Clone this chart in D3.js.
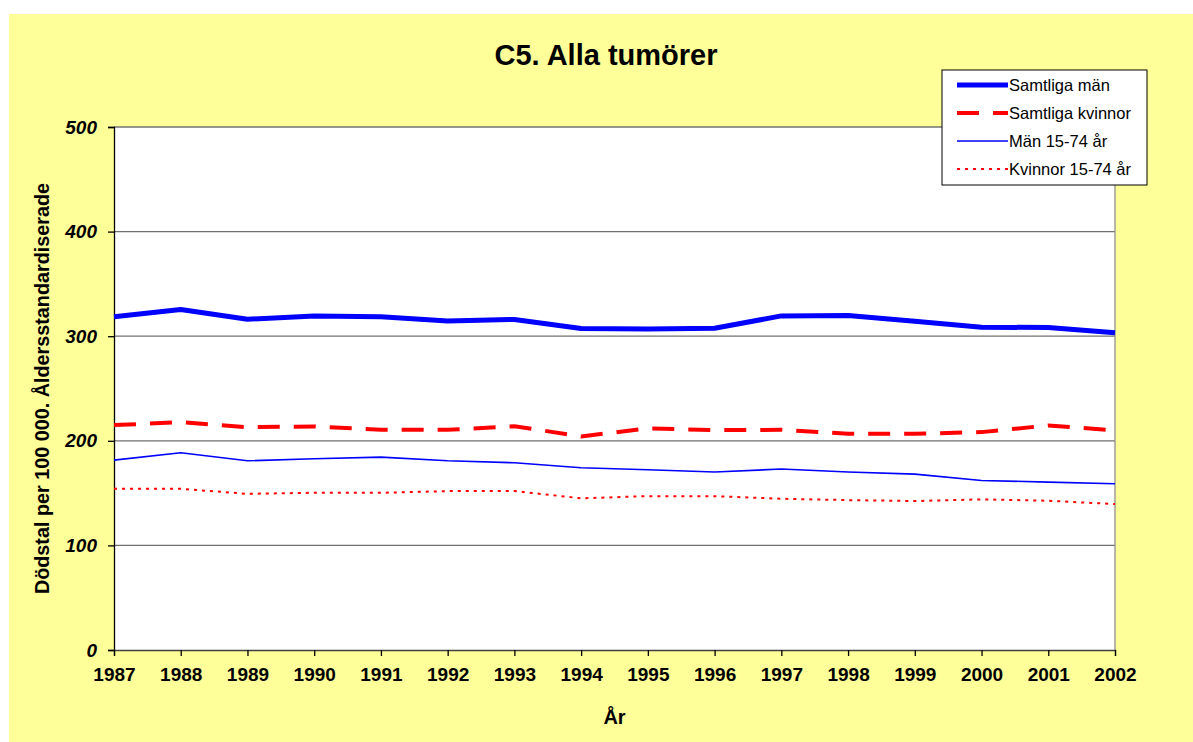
<!DOCTYPE html>
<html>
<head>
<meta charset="utf-8">
<script src="https://cdn.jsdelivr.net/npm/d3@7"></script>
<style>
  body { margin: 0; background: #ffffff; }
</style>
</head>
<body>
<div id="chart"></div>
<script>
// data
var years = [1987, 1988, 1989, 1990, 1991, 1992, 1993, 1994, 1995, 1996, 1997, 1998, 1999, 2000, 2001, 2002];
var samtligaMan = [318.5, 325.5, 316.2, 319.4, 318.5, 314.6, 316, 307.3, 307, 307.6, 319.4, 319.8, 314.3, 308.6, 308.3, 303.2];
var samtligaKvinnor = [215, 217.8, 213, 213.7, 210.5, 210.5, 214, 204.2, 211.8, 210.2, 210.5, 206.7, 206.7, 208.3, 214.7, 209.9];
var man1574 = [181.5, 188.5, 180.9, 182.8, 184.4, 180.9, 179, 174.2, 172.3, 170.1, 173, 170.1, 168.1, 162.1, 160.5, 158.9];
var kvinnor1574 = [154.1, 154.1, 149.3, 150.3, 150.3, 151.9, 152, 145, 147.1, 147.1, 144.6, 143.3, 142.4, 144, 142.7, 139.5];
var yTicks = [0, 100, 200, 300, 400, 500];

var seriesNames = ["Samtliga män", "Samtliga kvinnor", "Män 15-74 år", "Kvinnor 15-74 år"];
var seriesValues = [samtligaMan, samtligaKvinnor, man1574, kvinnor1574];

// styles per series
var seriesStyles = [
    { color: "#0000ff", width: 5, dash: null },
    { color: "#ff0000", width: 4, dash: "22,14" },
    { color: "#0000ff", width: 1.6, dash: null },
    { color: "#ff0000", width: 2, dash: "3,5" }
];

var W = 1193, H = 742;
var plot = { left: 114, right: 1115, top: 127, bottom: 650 };

var svg = d3.select("#chart")
    .append("svg")
    .attr("width", W)
    .attr("height", H)
    .attr("font-family", "Arial, 'Liberation Sans', sans-serif");

// yellow chart area
svg.append("rect")
    .attr("x", 9)
    .attr("y", 14)
    .attr("width", W - 9)
    .attr("height", H - 14)
    .attr("fill", "#ffff99");

var x = d3.scaleLinear()
    .domain([years[0], years[years.length - 1]])
    .range([plot.left, plot.right]);

var y = d3.scaleLinear()
    .domain([0, 500])
    .range([plot.bottom, plot.top]);

// plot area
svg.append("rect")
    .attr("x", plot.left)
    .attr("y", plot.top)
    .attr("width", plot.right - plot.left)
    .attr("height", plot.bottom - plot.top)
    .attr("fill", "#ffffff");

// gridlines
svg.append("g")
    .selectAll("line")
    .data(yTicks.filter(function (d) { return d > 0; }))
    .join("line")
    .attr("x1", plot.left)
    .attr("x2", plot.right)
    .attr("y1", function (d) { return y(d); })
    .attr("y2", function (d) { return y(d); })
    .attr("stroke", "#707070")
    .attr("stroke-width", 1.3);

// right border
svg.append("line")
    .attr("x1", plot.right)
    .attr("x2", plot.right)
    .attr("y1", plot.top)
    .attr("y2", plot.bottom)
    .attr("stroke", "#909090")
    .attr("stroke-width", 1.3);

// y axis
var yAxis = svg.append("g")
    .attr("transform", "translate(" + plot.left + ",0)")
    .call(d3.axisLeft(y).tickValues(yTicks).tickSize(6).tickPadding(11));
yAxis.select(".domain").attr("stroke", "#000").attr("stroke-width", 1.3);
yAxis.selectAll(".tick line").attr("stroke", "#000").attr("stroke-width", 1.3);
yAxis.selectAll(".tick text")
    .attr("font-size", "19px")
    .attr("font-weight", "bold")
    .attr("font-style", "italic")
    .attr("font-family", "Arial, 'Liberation Sans', sans-serif")
    .attr("fill", "#000");

// x axis
var xAxis = svg.append("g")
    .attr("transform", "translate(0," + plot.bottom + ")")
    .call(d3.axisBottom(x).tickValues(years).tickFormat(d3.format("d")).tickSize(6).tickPadding(12));
xAxis.select(".domain").attr("stroke", "#404040").attr("stroke-width", 1.3);
xAxis.selectAll(".tick line").attr("stroke", "#000").attr("stroke-width", 1.3);
xAxis.selectAll(".tick text")
    .attr("font-size", "19px")
    .attr("font-weight", "bold")
    .attr("font-family", "Arial, 'Liberation Sans', sans-serif")
    .attr("fill", "#000");

// lines
var line = d3.line()
    .x(function (d, i) { return x(years[i]); })
    .y(function (d) { return y(d); });

svg.append("g")
    .selectAll("path")
    .data(seriesValues)
    .join("path")
    .attr("d", function (d) { return line(d); })
    .attr("fill", "none")
    .attr("stroke", function (d, i) { return seriesStyles[i].color; })
    .attr("stroke-width", function (d, i) { return seriesStyles[i].width; })
    .attr("stroke-dasharray", function (d, i) { return seriesStyles[i].dash; })
    .attr("stroke-linejoin", "round");

// title
svg.append("text")
    .attr("x", 606)
    .attr("y", 65)
    .attr("text-anchor", "middle")
    .attr("font-size", "29px")
    .attr("font-weight", "bold")
    .text("C5. Alla tumörer");

// axis titles
svg.append("text")
    .attr("transform", "translate(49," + ((plot.top + plot.bottom) / 2) + ") rotate(-90)")
    .attr("text-anchor", "middle")
    .attr("font-size", "19.8px")
    .attr("font-weight", "bold")
    .text("Dödstal per 100 000. Åldersstandardiserade");

svg.append("text")
    .attr("x", (plot.left + plot.right) / 2)
    .attr("y", 724)
    .attr("text-anchor", "middle")
    .attr("font-size", "20px")
    .attr("font-weight", "bold")
    .text("År");

// legend
var legend = svg.append("g")
    .attr("transform", "translate(942,70)");

legend.append("rect")
    .attr("width", 205)
    .attr("height", 115)
    .attr("fill", "#ffffff")
    .attr("stroke", "#000")
    .attr("stroke-width", 1);

var legendItems = legend.selectAll("g")
    .data(seriesNames)
    .join("g")
    .attr("transform", function (d, i) { return "translate(0," + (15 + i * 28) + ")"; });

legendItems.append("line")
    .attr("x1", 15)
    .attr("x2", 66)
    .attr("y1", 0)
    .attr("y2", 0)
    .attr("stroke", function (d, i) { return seriesStyles[i].color; })
    .attr("stroke-width", function (d, i) { return seriesStyles[i].width; })
    .attr("stroke-dasharray", function (d, i) { return seriesStyles[i].dash; });

legendItems.append("text")
    .attr("x", 67)
    .attr("y", 6)
    .attr("font-size", "16.5px")
    .text(function (d) { return d; });
</script>
</body>
</html>
